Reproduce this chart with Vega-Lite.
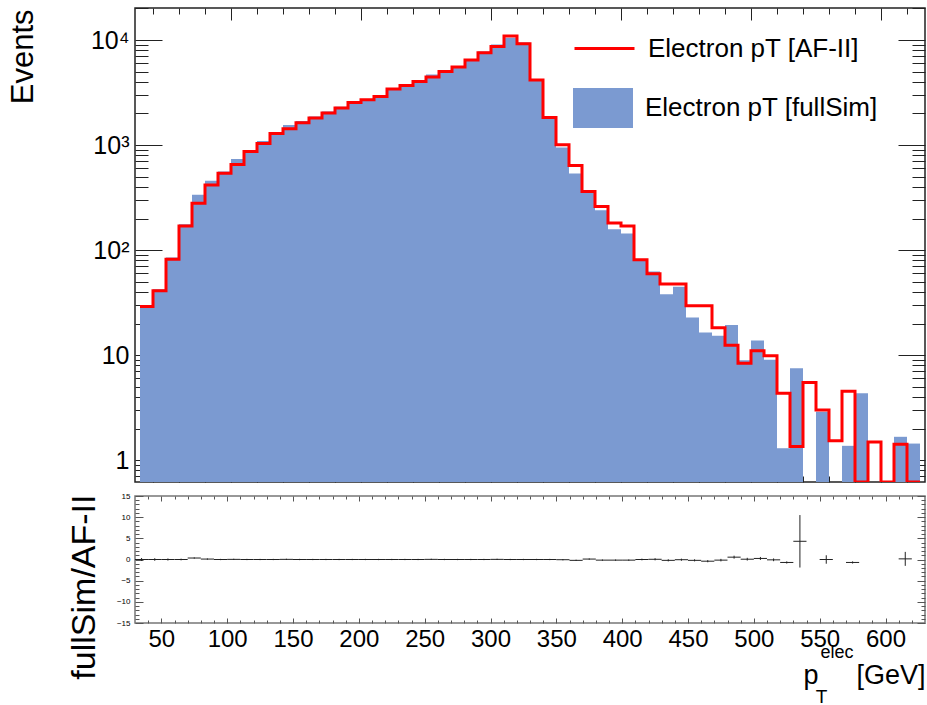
{
  "$schema": "https://vega.github.io/schema/vega-lite/v6.json",
  "padding": {"left": 6, "top": -5, "right": 0, "bottom": 0},
  "background": "white",
  "spacing": 14,
  "bounds": "flush",
  "config": {
    "font": "Liberation Sans",
    "axis": {"grid": false, "domain": false, "tickColor": "#222", "labelColor": "#000", "titleColor": "#000", "titleFontWeight": "normal", "labelOverlap": false, "labelFlush": false, "labelFont": "Liberation Sans", "titleFont": "Liberation Sans"},
    "legend": {"labelLimit": 500, "padding": 0, "titlePadding": 0, "labelFont": "Liberation Sans"}
  },
  "datasets": {
    "hist": [
      {"lo":30,"hi":40,"full":30,"af":29},{"lo":40,"hi":50,"full":42.5,"af":41},{"lo":50,"hi":60,"full":85,"af":82},{"lo":60,"hi":70,"full":176,"af":170},
      {"lo":70,"hi":80,"full":336,"af":280},{"lo":80,"hi":90,"full":457,"af":416},{"lo":90,"hi":100,"full":560,"af":541},{"lo":100,"hi":110,"full":736,"af":653},
      {"lo":110,"hi":120,"full":889,"af":869},{"lo":120,"hi":130,"full":1092,"af":1035},{"lo":130,"hi":140,"full":1310,"af":1290},{"lo":140,"hi":150,"full":1550,"af":1429},
      {"lo":150,"hi":160,"full":1693,"af":1630},{"lo":160,"hi":170,"full":1873,"af":1808},{"lo":170,"hi":180,"full":2090,"af":2018},{"lo":180,"hi":190,"full":2318,"af":2250},
      {"lo":190,"hi":200,"full":2603,"af":2546},{"lo":200,"hi":210,"full":2740,"af":2700},{"lo":210,"hi":220,"full":2950,"af":2904},{"lo":220,"hi":230,"full":3490,"af":3415},
      {"lo":230,"hi":240,"full":3780,"af":3700},{"lo":240,"hi":250,"full":4100,"af":4036},{"lo":250,"hi":260,"full":4700,"af":4445},{"lo":260,"hi":270,"full":5135,"af":5023},
      {"lo":270,"hi":280,"full":5660,"af":5534},{"lo":280,"hi":290,"full":6600,"af":6450},{"lo":290,"hi":300,"full":7800,"af":7570},{"lo":300,"hi":310,"full":9080,"af":8690},
      {"lo":310,"hi":320,"full":10500,"af":10920},{"lo":320,"hi":330,"full":9490,"af":9225},{"lo":330,"hi":340,"full":4200,"af":4160},{"lo":340,"hi":350,"full":1850,"af":1833},
      {"lo":350,"hi":360,"full":948,"af":1007},{"lo":360,"hi":370,"full":537,"af":639},{"lo":370,"hi":380,"full":365,"af":362},{"lo":380,"hi":390,"full":240,"af":260},
      {"lo":390,"hi":400,"full":158,"af":181},{"lo":400,"hi":410,"full":144,"af":170},{"lo":410,"hi":420,"full":82,"af":81},{"lo":420,"hi":430,"full":62.5,"af":59.5},
      {"lo":430,"hi":440,"full":38.1,"af":47.5},{"lo":440,"hi":450,"full":44.7,"af":47.5},{"lo":450,"hi":460,"full":22.8,"af":29.5},{"lo":460,"hi":470,"full":16.4,"af":29.5},
      {"lo":470,"hi":480,"full":15.3,"af":18.2},{"lo":480,"hi":490,"full":19.4,"af":12.45},{"lo":490,"hi":500,"full":8.96,"af":8.39},{"lo":500,"hi":510,"full":13.8,"af":11.0},
      {"lo":510,"hi":520,"full":9.02,"af":9.85},{"lo":520,"hi":530,"full":1.30,"af":4.35},{"lo":530,"hi":540,"full":7.52,"af":1.35},{"lo":540,"hi":550,"full":0,"af":5.48},
      {"lo":550,"hi":560,"full":2.9,"af":3.01},{"lo":560,"hi":570,"full":0,"af":1.53},{"lo":570,"hi":580,"full":1.37,"af":4.54},{"lo":580,"hi":590,"full":4.35,"af":0},
      {"lo":590,"hi":600,"full":0,"af":1.49},{"lo":600,"hi":610,"full":0,"af":0},{"lo":610,"hi":620,"full":1.67,"af":1.42},{"lo":620,"hi":630,"full":1.44,"af":0}
    ],
    "edges": [
      {"edge":30,"af":29},{"edge":40,"af":41},{"edge":50,"af":82},{"edge":60,"af":170},{"edge":70,"af":280},{"edge":80,"af":416},{"edge":90,"af":541},{"edge":100,"af":653},
      {"edge":110,"af":869},{"edge":120,"af":1035},{"edge":130,"af":1290},{"edge":140,"af":1429},{"edge":150,"af":1630},{"edge":160,"af":1808},{"edge":170,"af":2018},{"edge":180,"af":2250},
      {"edge":190,"af":2546},{"edge":200,"af":2700},{"edge":210,"af":2904},{"edge":220,"af":3415},{"edge":230,"af":3700},{"edge":240,"af":4036},{"edge":250,"af":4445},{"edge":260,"af":5023},
      {"edge":270,"af":5534},{"edge":280,"af":6450},{"edge":290,"af":7570},{"edge":300,"af":8690},{"edge":310,"af":10920},{"edge":320,"af":9225},{"edge":330,"af":4160},{"edge":340,"af":1833},
      {"edge":350,"af":1007},{"edge":360,"af":639},{"edge":370,"af":362},{"edge":380,"af":260},{"edge":390,"af":181},{"edge":400,"af":170},{"edge":410,"af":81},{"edge":420,"af":59.5},
      {"edge":430,"af":47.5},{"edge":440,"af":47.5},{"edge":450,"af":29.5},{"edge":460,"af":29.5},{"edge":470,"af":18.2},{"edge":480,"af":12.45},{"edge":490,"af":8.39},{"edge":500,"af":11.0},
      {"edge":510,"af":9.85},{"edge":520,"af":4.35},{"edge":530,"af":1.35},{"edge":540,"af":5.48},{"edge":550,"af":3.01},{"edge":560,"af":1.53},{"edge":570,"af":4.54},{"edge":580,"af":0},
      {"edge":590,"af":1.49},{"edge":600,"af":0},{"edge":610,"af":1.42},{"edge":620,"af":0},{"edge":630,"af":0}
    ],
    "ratio": [
      {"c":35,"lo":30,"hi":40,"r":0,"elo":-0.35,"ehi":0.35},{"c":45,"lo":40,"hi":50,"r":0,"elo":-0.3,"ehi":0.3},{"c":55,"lo":50,"hi":60,"r":0,"elo":-0.25,"ehi":0.25},{"c":65,"lo":60,"hi":70,"r":0,"elo":-0.2,"ehi":0.2},
      {"c":75,"lo":70,"hi":80,"r":0.35,"elo":0.2,"ehi":0.5},{"c":85,"lo":80,"hi":90,"r":0.1,"elo":-0.05,"ehi":0.25},{"c":95,"lo":90,"hi":100,"r":0,"elo":-0.15,"ehi":0.15},{"c":105,"lo":100,"hi":110,"r":0.03,"elo":-0.12,"ehi":0.18},
      {"c":115,"lo":110,"hi":120,"r":0,"elo":-0.15,"ehi":0.15},{"c":125,"lo":120,"hi":130,"r":0,"elo":-0.15,"ehi":0.15},{"c":135,"lo":130,"hi":140,"r":0,"elo":-0.15,"ehi":0.15},{"c":145,"lo":140,"hi":150,"r":0.03,"elo":-0.12,"ehi":0.18},
      {"c":155,"lo":150,"hi":160,"r":0,"elo":-0.15,"ehi":0.15},{"c":165,"lo":160,"hi":170,"r":0,"elo":-0.15,"ehi":0.15},{"c":175,"lo":170,"hi":180,"r":0,"elo":-0.15,"ehi":0.15},{"c":185,"lo":180,"hi":190,"r":0,"elo":-0.15,"ehi":0.15},
      {"c":195,"lo":190,"hi":200,"r":0,"elo":-0.15,"ehi":0.15},{"c":205,"lo":200,"hi":210,"r":0,"elo":-0.15,"ehi":0.15},{"c":215,"lo":210,"hi":220,"r":0,"elo":-0.15,"ehi":0.15},{"c":225,"lo":220,"hi":230,"r":0,"elo":-0.15,"ehi":0.15},
      {"c":235,"lo":230,"hi":240,"r":0,"elo":-0.15,"ehi":0.15},{"c":245,"lo":240,"hi":250,"r":0,"elo":-0.15,"ehi":0.15},{"c":255,"lo":250,"hi":260,"r":0.03,"elo":-0.12,"ehi":0.18},{"c":265,"lo":260,"hi":270,"r":0,"elo":-0.15,"ehi":0.15},
      {"c":275,"lo":270,"hi":280,"r":0,"elo":-0.15,"ehi":0.15},{"c":285,"lo":280,"hi":290,"r":0,"elo":-0.15,"ehi":0.15},{"c":295,"lo":290,"hi":300,"r":0,"elo":-0.15,"ehi":0.15},{"c":305,"lo":300,"hi":310,"r":0.03,"elo":-0.12,"ehi":0.18},
      {"c":315,"lo":310,"hi":320,"r":0,"elo":-0.15,"ehi":0.15},{"c":325,"lo":320,"hi":330,"r":0,"elo":-0.15,"ehi":0.15},{"c":335,"lo":330,"hi":340,"r":0,"elo":-0.15,"ehi":0.15},{"c":345,"lo":340,"hi":350,"r":0,"elo":-0.15,"ehi":0.15},
      {"c":355,"lo":350,"hi":360,"r":-0.05,"elo":-0.2,"ehi":0.1},{"c":365,"lo":360,"hi":370,"r":-0.2,"elo":-0.35,"ehi":-0.05},{"c":375,"lo":370,"hi":380,"r":0.1,"elo":-0.05,"ehi":0.25},{"c":385,"lo":380,"hi":390,"r":-0.15,"elo":-0.3,"ehi":0},
      {"c":395,"lo":390,"hi":400,"r":-0.15,"elo":-0.3,"ehi":0},{"c":405,"lo":400,"hi":410,"r":-0.15,"elo":-0.3,"ehi":0},{"c":415,"lo":410,"hi":420,"r":0,"elo":-0.2,"ehi":0.2},{"c":425,"lo":420,"hi":430,"r":0.05,"elo":-0.2,"ehi":0.3},
      {"c":435,"lo":430,"hi":440,"r":-0.2,"elo":-0.45,"ehi":0.05},{"c":445,"lo":440,"hi":450,"r":-0.05,"elo":-0.3,"ehi":0.2},{"c":455,"lo":450,"hi":460,"r":-0.2,"elo":-0.45,"ehi":0.05},{"c":465,"lo":460,"hi":470,"r":-0.4,"elo":-0.65,"ehi":-0.15},
      {"c":475,"lo":470,"hi":480,"r":-0.15,"elo":-0.45,"ehi":0.15},{"c":485,"lo":480,"hi":490,"r":0.55,"elo":0.2,"ehi":0.9},{"c":495,"lo":490,"hi":500,"r":0.07,"elo":-0.25,"ehi":0.4},{"c":505,"lo":500,"hi":510,"r":0.25,"elo":-0.1,"ehi":0.6},
      {"c":515,"lo":510,"hi":520,"r":-0.08,"elo":-0.4,"ehi":0.25},{"c":525,"lo":520,"hi":530,"r":-0.7,"elo":-0.95,"ehi":-0.45},{"c":535,"lo":530,"hi":540,"r":4.3,"elo":-1.9,"ehi":10.5},
      {"c":555,"lo":550,"hi":560,"r":0,"elo":-1.0,"ehi":1.0},{"c":575,"lo":570,"hi":580,"r":-0.7,"elo":-0.95,"ehi":-0.45},{"c":615,"lo":610,"hi":620,"r":0.15,"elo":-1.5,"ehi":1.8}
    ]
  },
  "vconcat": [
    {
      "width": 790,
      "height": 474,
      "view": {"stroke": "#222", "strokeWidth": 1.5},
      "resolve": {"axis": {"x": "independent", "y": "independent"}, "scale": {"stroke": "independent", "fill": "independent"}},
      "layer": [
        {
          "data": {"name": "hist"},
          "mark": {"type": "bar", "orient": "vertical", "clip": true},
          "encoding": {
            "x": {"field": "lo", "type": "quantitative",
              "scale": {"domain": [30, 630], "nice": false, "zero": false},
              "axis": {"orient": "bottom", "values": [40,60,80,100,120,140,160,180,200,220,240,260,280,300,320,340,360,380,400,420,440,460,480,500,520,540,560,580,600,620],
                "labels": false, "title": null,
                "tickSize": {"condition": {"test": "datum.value % 100 === 0", "value": -12}, "value": -6}}},
            "x2": {"field": "hi"},
            "y": {"field": "full", "type": "quantitative",
              "scale": {"type": "log", "domain": [0.62, 20200], "nice": false, "clamp": true},
              "axis": {"orient": "left",
                "values": [0.7,0.8,0.9,1,2,3,4,5,6,7,8,9,10,20,30,40,50,60,70,80,90,100,200,300,400,500,600,700,800,900,1000,2000,3000,4000,5000,6000,7000,8000,9000,10000,20000],
                "labelExpr": "datum.value == 1 ? '1' : datum.value == 10 ? '10' : datum.value == 100 ? '10²' : datum.value == 1000 ? '10³' : datum.value == 10000 ? '10⁴' : ''",
                "labelFontSize": 25, "labelPadding": 33,
                "tickSize": {"condition": {"test": "indexof([1,10,100,1000,10000], datum.value) >= 0", "value": -27}, "value": -13},
                "title": "Events", "titleFontSize": 31, "titleAngle": -90,
                "titleX": -103, "titleY": 1, "titleAlign": "right", "titleBaseline": "alphabetic"}},
            "fill": {"datum": "Electron pT [fullSim]", "type": "nominal",
              "scale": {"range": ["#7b9ad1"]},
              "legend": {"orient": "none", "legendX": 438, "legendY": 70, "title": null,
                "symbolType": "M-1,-0.667H1V0.667H-1Z", "symbolSize": 3600, "symbolStrokeWidth": 0,
                "labelFontSize": 26, "labelOffset": 12}}
          }
        },
        {
          "data": {"name": "edges"},
          "mark": {"type": "line", "interpolate": "step-after", "strokeWidth": 3, "clip": true},
          "encoding": {
            "x": {"field": "edge", "type": "quantitative",
              "axis": {"orient": "top", "values": [40,60,80,100,120,140,160,180,200,220,240,260,280,300,320,340,360,380,400,420,440,460,480,500,520,540,560,580,600,620],
                "labels": false, "title": null,
                "tickSize": {"condition": {"test": "datum.value % 100 === 0", "value": -12}, "value": -6}}},
            "y": {"field": "af", "type": "quantitative",
              "axis": {"orient": "right",
                "values": [0.7,0.8,0.9,1,2,3,4,5,6,7,8,9,10,20,30,40,50,60,70,80,90,100,200,300,400,500,600,700,800,900,1000,2000,3000,4000,5000,6000,7000,8000,9000,10000,20000],
                "labels": false, "title": null,
                "tickSize": {"condition": {"test": "indexof([1,10,100,1000,10000], datum.value) >= 0", "value": -27}, "value": -13}}},
            "stroke": {"datum": "Electron pT [AF-II]", "type": "nominal",
              "scale": {"range": ["#ff0000"]},
              "legend": {"orient": "none", "legendX": 438, "legendY": 9, "title": null,
                "symbolType": "stroke", "symbolSize": 3600, "symbolStrokeWidth": 3,
                "labelFontSize": 26, "labelOffset": 12}}
          }
        }
      ]
    },
    {
      "width": 790,
      "height": 127,
      "view": {"stroke": "#777", "strokeWidth": 1.5},
      "data": {"name": "ratio"},
      "resolve": {"axis": {"x": "independent", "y": "independent"}},
      "layer": [
        {
          "mark": {"type": "rule", "color": "#222", "strokeWidth": 1},
          "encoding": {
            "x": {"field": "lo", "type": "quantitative",
              "scale": {"domain": [30, 630], "nice": false, "zero": false},
              "axis": {"orient": "bottom",
                "values": [40,50,60,70,80,90,100,110,120,130,140,150,160,170,180,190,200,210,220,230,240,250,260,270,280,290,300,310,320,330,340,350,360,370,380,390,400,410,420,430,440,450,460,470,480,490,500,510,520,530,540,550,560,570,580,590,600,610,620],
                "labelExpr": "datum.value % 50 === 0 ? datum.label : ''",
                "labelFontSize": 24, "labelPadding": 9, "tickColor": "#555",
                "tickSize": {"condition": {"test": "datum.value % 50 === 0", "value": -5}, "value": -3},
                "title": "p", "titleFontSize": 27, "titleX": 683, "titleY": 60, "titleAlign": "right", "titleBaseline": "alphabetic"}},
            "x2": {"field": "hi"},
            "y": {"field": "r", "type": "quantitative",
              "scale": {"domain": [-15, 15], "nice": false, "zero": false},
              "axis": {"orient": "left",
                "values": [-15,-14,-13,-12,-11,-10,-9,-8,-7,-6,-5,-4,-3,-2,-1,0,1,2,3,4,5,6,7,8,9,10,11,12,13,14,15],
                "labelExpr": "datum.value % 5 === 0 ? datum.label : ''",
                "labelFontSize": 8, "labelPadding": 13, "tickColor": "#555",
                "tickSize": {"condition": {"test": "datum.value % 5 === 0", "value": -8}, "value": -4},
                "title": "fullSim/AF-II", "titleFontSize": 34, "titleAngle": -90,
                "titleX": -41, "titleY": -2, "titleAlign": "right", "titleBaseline": "alphabetic"}}
          }
        },
        {
          "mark": {"type": "rule", "color": "#222", "strokeWidth": 1},
          "encoding": {
            "x": {"field": "c", "type": "quantitative",
              "axis": {"orient": "top",
                "values": [40,50,60,70,80,90,100,110,120,130,140,150,160,170,180,190,200,210,220,230,240,250,260,270,280,290,300,310,320,330,340,350,360,370,380,390,400,410,420,430,440,450,460,470,480,490,500,510,520,530,540,550,560,570,580,590,600,610,620],
                "labels": false, "title": null, "tickColor": "#555",
                "tickSize": {"condition": {"test": "datum.value % 50 === 0", "value": -5}, "value": -3}}},
            "y": {"field": "elo", "type": "quantitative",
              "axis": {"orient": "right",
                "values": [-15,-14,-13,-12,-11,-10,-9,-8,-7,-6,-5,-4,-3,-2,-1,0,1,2,3,4,5,6,7,8,9,10,11,12,13,14,15],
                "labels": false, "title": null, "tickColor": "#555",
                "tickSize": {"condition": {"test": "datum.value % 5 === 0", "value": -8}, "value": -4}}},
            "y2": {"field": "ehi"}
          }
        },
        {
          "mark": {"type": "rule", "opacity": 0},
          "encoding": {
            "x": {"field": "c", "type": "quantitative",
              "axis": {"orient": "bottom", "labels": false, "ticks": false, "domain": false,
                "title": "elec", "titleFontSize": 18, "titleX": 685, "titleY": 34, "titleAlign": "left", "titleBaseline": "alphabetic"}},
            "y": {"field": "r", "type": "quantitative", "axis": null}
          }
        },
        {
          "mark": {"type": "rule", "opacity": 0},
          "encoding": {
            "x": {"field": "c", "type": "quantitative",
              "axis": {"orient": "bottom", "labels": false, "ticks": false, "domain": false,
                "title": "T", "titleFontSize": 19, "titleX": 686, "titleY": 79, "titleAlign": "center", "titleBaseline": "alphabetic"}},
            "y": {"field": "r", "type": "quantitative", "axis": null}
          }
        },
        {
          "mark": {"type": "rule", "opacity": 0},
          "encoding": {
            "x": {"field": "c", "type": "quantitative",
              "axis": {"orient": "bottom", "labels": false, "ticks": false, "domain": false,
                "title": "[GeV]", "titleFontSize": 27, "titleX": 721, "titleY": 60, "titleAlign": "left", "titleBaseline": "alphabetic"}},
            "y": {"field": "r", "type": "quantitative", "axis": null}
          }
        }
      ]
    }
  ]
}
